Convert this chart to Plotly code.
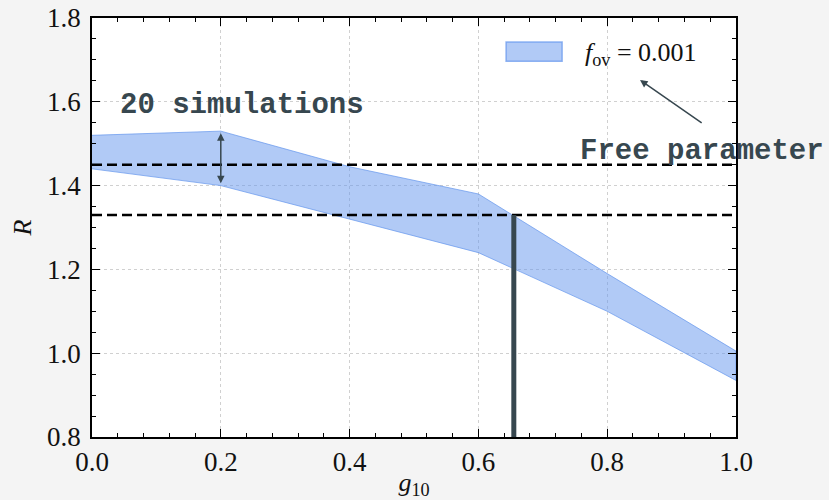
import plotly.graph_objects as go

# data
g10 = [0.0, 0.2, 0.4, 0.6, 0.8, 1.0]
r_upper = [1.52, 1.53, 1.445, 1.38, 1.19, 1.005]
r_lower = [1.44, 1.40, 1.32, 1.24, 1.10, 0.935]
h_levels = [1.45, 1.33]
v_x = 0.655
v_top = 1.33
x_ticks = [0.0, 0.2, 0.4, 0.6, 0.8, 1.0]
y_ticks = [0.8, 1.0, 1.2, 1.4, 1.6, 1.8]
legend_label = "<i>f</i><sub>ov</sub> = 0.001"

slate = "#37474f"
serif = "Liberation Serif, Times New Roman, serif"
mono = "Liberation Mono, Courier New, monospace"
fill = "rgba(100,149,237,0.5)"
edge = "rgba(100,149,237,0.7)"

fig = go.Figure()
fig.add_trace(go.Scatter(
    x=g10 + g10[::-1], y=r_upper + r_lower[::-1],
    fill="toself", fillcolor=fill,
    line=dict(color=edge, width=1),
    mode="lines", name=legend_label, hoverinfo="skip", showlegend=False))

for h in h_levels:
    fig.add_shape(type="line", xref="paper", x0=0, x1=1, y0=h, y1=h,
                  line=dict(color="black", width=2.5, dash="10px,5px"))
fig.add_shape(type="line", x0=v_x, x1=v_x, y0=0.8, y1=v_top,
              line=dict(color=slate, width=5))

# legend drawn as a swatch + label
fig.add_shape(type="rect", xref="paper", yref="paper",
              x0=0.643, x1=0.730, y0=0.897, y1=0.943,
              fillcolor=fill, line=dict(color=edge, width=1.5))
fig.add_annotation(x=0.762, y=0.956, xref="paper", yref="paper", text=legend_label,
                   showarrow=False, xanchor="left",
                   font=dict(family=serif, size=26, color="#111"))

fig.add_annotation(x=0.2, y=1.525, ax=0.2, ay=1.402, xref="x", yref="y",
                   axref="x", ayref="y", text="", showarrow=True,
                   arrowhead=2, startarrowhead=2, arrowside="end+start",
                   arrowsize=1, arrowwidth=1.5, arrowcolor=slate)
fig.add_annotation(x=0.851, y=1.652, ax=0.949, ay=1.547, xref="x", yref="y",
                   axref="x", ayref="y", text="", showarrow=True,
                   arrowhead=2, arrowsize=1, arrowwidth=1.5, arrowcolor=slate)
fig.add_annotation(x=0.233, y=1.59, xref="x", yref="y", text="<b>20 simulations</b>",
                   showarrow=False, font=dict(family=mono, size=29, color=slate))
fig.add_annotation(x=0.947, y=1.482, xref="x", yref="y", text="<b>Free parameter</b>",
                   showarrow=False, font=dict(family=mono, size=29, color=slate))

axis_common = dict(
    showline=True, linecolor="black", linewidth=1.5, mirror="allticks",
    ticks="inside", ticklen=8, tickwidth=1.2, tickcolor="black",
    showgrid=True, gridcolor="#d0d0d0", griddash="dot", gridwidth=1,
    zeroline=False, automargin=False,
    tickfont=dict(family=serif, size=27, color="#111"),
)
fig.update_xaxes(range=[0, 1], tickvals=x_ticks, ticktext=[f"{v:.1f}" for v in x_ticks],
                 minor=dict(ticks="inside", ticklen=4, dtick=0.04, tick0=0, tickcolor="black", showgrid=False),
                 title=dict(text="<i>g</i><sub>10</sub>", font=dict(family=serif, size=26, color="#111"), standoff=14),
                 **axis_common)
fig.update_yaxes(range=[0.8, 1.8], tickvals=y_ticks, ticktext=[f"{v:.1f}" for v in y_ticks],
                 minor=dict(ticks="inside", ticklen=4, dtick=0.05, tick0=0.8, tickcolor="black", showgrid=False),
                 title=dict(text="<i>R</i>", font=dict(family=serif, size=26, color="#111"), standoff=8),
                 ticklabelstandoff=4,
                 **axis_common)

fig.update_layout(
    width=829, height=500,
    margin=dict(l=92, r=93, t=18, b=63),
    paper_bgcolor="#f4f4f4", plot_bgcolor="white",
    showlegend=False,
)

fig.write_html("out.html", config={"displayModeBar": False},
               post_script="document.body.style.margin='0';document.body.style.background='#f4f4f4';")
